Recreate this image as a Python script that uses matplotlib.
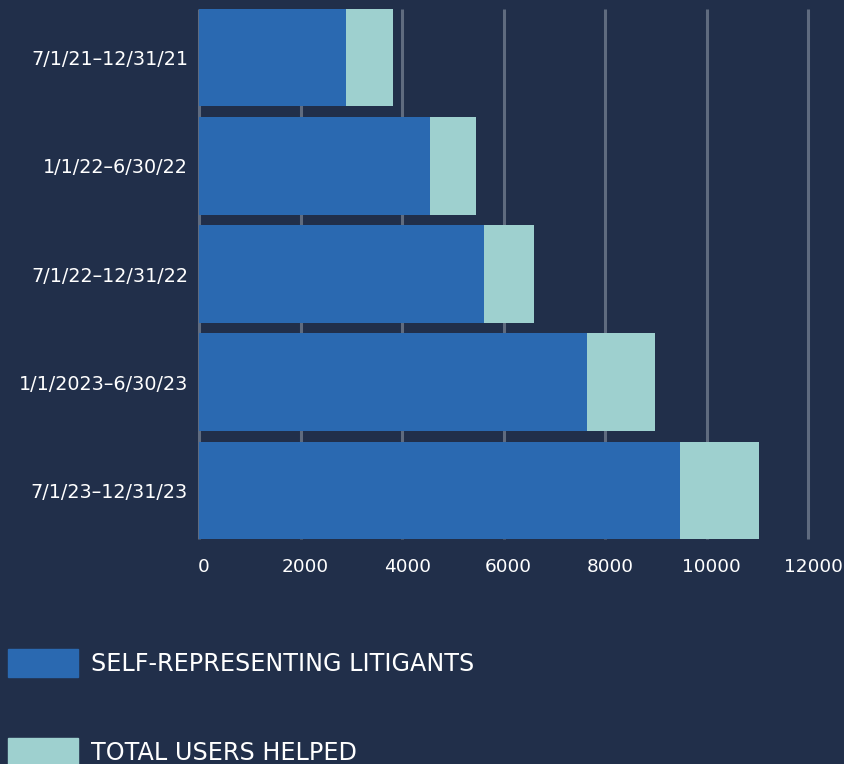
import matplotlib
matplotlib.use("Agg")
import matplotlib.pyplot as plt
from matplotlib.patches import Patch
from matplotlib.transforms import ScaledTranslation
import numpy as np

plt.rcParams['font.family'] = ['DejaVu Sans']

categories = ["7/1/21–12/31/21", "1/1/22–6/30/22", "7/1/22–12/31/22",
              "1/1/2023–6/30/23", "7/1/23–12/31/23"]
self_representing = [2895, 4549, 5612, 7641, 9472]
total_users_helped = [925, 906, 985, 1339, 1556]
x_ticks = [0, 2000, 4000, 6000, 8000, 10000, 12000]

BG = "#212f4a"
BLUE = "#2a69b1"
LIGHT = "#9ed0cf"
GRID = "#5f6b7f"

fig = plt.figure(figsize=(8.44, 7.64), dpi=100, facecolor=BG)
ax = fig.add_axes([199/844, 1-539/764, (808.3-199)/844, 530/764])
ax.set_facecolor(BG)

y = np.arange(len(categories))
ax.barh(y, self_representing, height=0.9, color=BLUE, zorder=3,
        label="SELF-REPRESENTING LITIGANTS")
ax.barh(y, total_users_helped, left=self_representing, height=0.9,
        color=LIGHT, zorder=3, label="TOTAL USERS HELPED")

ax.set_xlim(0, 12000)
ax.set_ylim(len(categories) - 0.55, -0.45)
ax.set_yticks(y)
ax.set_yticklabels(categories)
ax.set_xticks(x_ticks)
ax.set_xticklabels([str(t) for t in x_ticks])
ax.grid(axis='x', color=GRID, linewidth=2.2, zorder=0)
for gl in ax.get_xgridlines():
    gl.set_clip_on(False)
    gl.set_solid_capstyle('butt')
ax.set_axisbelow(True)
for s in ax.spines.values():
    s.set_visible(False)
ax.tick_params(axis='both', length=0, colors='white')
ax.tick_params(axis='x', pad=13.5, labelsize=13.3)
ax.tick_params(axis='y', pad=8, labelsize=13.8)
shift = ScaledTranslation(5/100, 0, fig.dpi_scale_trans)
for lab in ax.get_xticklabels():
    lab.set_transform(lab.get_transform() + shift)

handles = [Patch(color=BLUE), Patch(color=LIGHT)]
labels = ["SELF-REPRESENTING LITIGANTS", "TOTAL USERS HELPED"]
leg = fig.legend(handles, labels, loc='upper left',
                 bbox_to_anchor=(8/844, 1-649/764), frameon=False,
                 fontsize=17.2, handlelength=2.93, handleheight=1.426,
                 handletextpad=0.54, labelspacing=2.55, borderpad=0,
                 borderaxespad=0)
for t in leg.get_texts():
    t.set_color('white')

fig.savefig("out.png", dpi=100, facecolor=BG)
